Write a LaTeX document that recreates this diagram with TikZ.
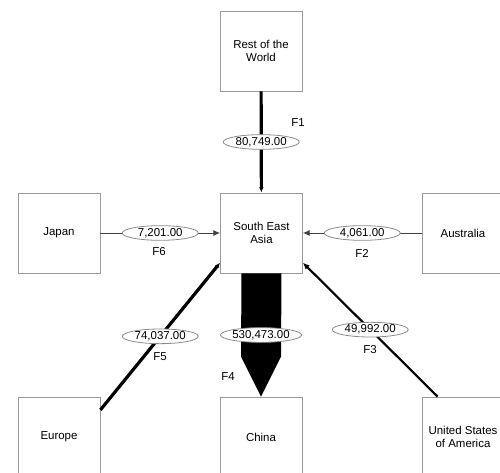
\documentclass[tikz,border=0pt]{standalone}
\usepackage{fontspec}
\setmainfont{Liberation Sans}
\usetikzlibrary{shapes.geometric,arrows.meta,calc}

\tikzset{
	region/.style={draw=gray!80,line width=0.6pt,fill=white,minimum width=61.5pt,minimum height=60pt,
		align=center,inner sep=1pt,font=\fontsize{8.6}{9.5}\selectfont},
	amount/.style={ellipse,draw=gray!90,line width=0.6pt,fill=white,minimum width=57pt,minimum height=11pt,
		inner sep=0pt,font=\fontsize{8.6}{9}\selectfont},
	flowname/.style={font=\fontsize{8.6}{9}\selectfont,inner sep=0pt},
	thinflow/.style={draw=black!75,line width=0.7pt,-{Latex[length=5pt,width=4.5pt]}},
	thickflow/.style={draw=black,line width=2.4pt,-{Latex[length=4pt,width=3.5pt]}},
	midflow/.style={draw=black,line width=1.6pt,-{Latex[length=5pt,width=4.5pt]}}
}

\begin{document}
\begin{tikzpicture}[x=0.75pt,y=-0.75pt]

		\useasboundingbox (0,0) rectangle (500,473);

		\node[region] (row) at (261,51) {Rest of the\\World};
		\node[region] (sea) at (261.5,233) {South East\\Asia};
		\node[region] (jp) at (59,233) {Japan};
		\node[region] (au) at (463,233) {Australia};
		\node[region] (eu) at (59,437) {Europe};
		\node[region] (cn) at (261,437) {China};
		\node[region] (us) at (463,437) {United States\\of America};

		% flows into South East Asia
		\draw[thickflow] (row) -- node[amount] (a1) {80,749.00} (sea);
		\draw[thinflow] (jp) -- node[amount] (a6) {7,201.00} (sea);
		\draw[thinflow] (au) -- node[amount] (a2) {4,061.00} (sea);
		\draw[midflow] ([xshift=12pt]us.north west) -- node[amount] (a3) {49,992.00} ([yshift=8pt]sea.south east);
		\draw[thickflow] ([yshift=-10pt]eu.north east) -- node[amount] (a5) {74,037.00} ([yshift=8pt]sea.south west);

		% flow to China
		\fill ($(sea.south)+(-15pt,0)$) -- ($(cn.north)+(-15pt,30pt)$) -- (cn.north)
			-- ($(cn.north)+(15pt,30pt)$) -- ($(sea.south)+(15pt,0)$) -- cycle;
		\node[amount] (a4) at (261,335) {530,473.00};

		\node[flowname] (f1) at (298,123) {F1};
		\node[flowname] (f6) at (159,252) {F6};
		\node[flowname] (f2) at (362,254) {F2};
		\node[flowname] (f5) at (160,357) {F5};
		\node[flowname] (f3) at (370,350) {F3};
		\node[flowname] (f4) at (228,377) {F4};

	\end{tikzpicture}
\end{document}
